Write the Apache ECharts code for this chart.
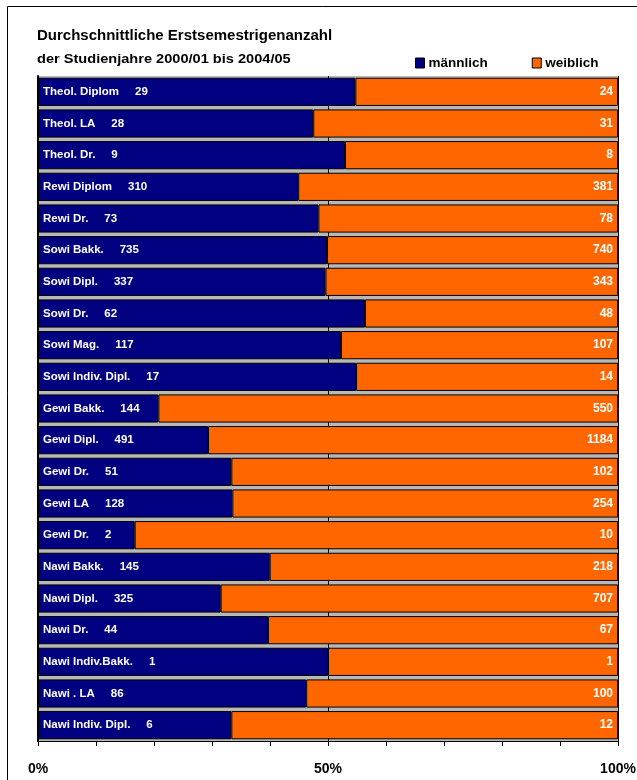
<!DOCTYPE html>
<html>
<head>
<meta charset="utf-8">
<script src="https://cdn.jsdelivr.net/npm/echarts@6/dist/echarts.min.js"></script>
<style>
html,body{margin:0;padding:0;background:#fff;}
#chart{width:637px;height:780px;}
</style>
</head>
<body>
<div id="chart"></div>
<script>
var categories = ["Theol. Diplom","Theol. LA","Theol. Dr.","Rewi Diplom","Rewi Dr.","Sowi Bakk.","Sowi Dipl.","Sowi Dr.","Sowi Mag.","Sowi Indiv. Dipl.","Gewi Bakk.","Gewi Dipl.","Gewi Dr.","Gewi LA","Gewi Dr.","Nawi Bakk.","Nawi Dipl.","Nawi Dr.","Nawi Indiv.Bakk.","Nawi . LA","Nawi Indiv. Dipl."];
var maennlich = [29,28,9,310,73,735,337,62,117,17,144,491,51,128,2,145,325,44,1,86,6];
var weiblich = [24,31,8,381,78,740,343,48,107,14,550,1184,102,254,10,218,707,67,1,100,12];
var tickLabels = ["0%","50%","100%"];

var sans = '"Liberation Sans", Arial, sans-serif';

var mPct = maennlich.map(function(v,i){return v/(v+weiblich[i])*100;});
var wPct = weiblich.map(function(v,i){return v/(maennlich[i]+v)*100;});
var yIdx = categories.map(function(c,i){return i;});

var chart = echarts.init(document.getElementById('chart'));
chart.setOption({
  animation:false,
  backgroundColor:'#fff',
  graphic:[
    {type:'rect', shape:{x:7.5,y:6.5,width:700,height:800}, style:{fill:'none',stroke:'#000',lineWidth:1}, z:-10},
    {type:'text', left:37, top:28, style:{text:'Durchschnittliche Erstsemestrigenanzahl', font:'bold 15px '+sans, fill:'#000'}},
    {type:'text', x:37, y:52, scaleX:1.08, style:{text:'der Studienjahre 2000/01 bis 2004/05', font:'bold 13.5px '+sans, fill:'#000'}}
  ],
  legend:{
    top:51, left:410, itemGap:44, itemWidth:9, itemHeight:10, icon:'rect',
    textStyle:{fontFamily:sans,fontWeight:'bold',fontSize:13.5,color:'#000',padding:[0,0,0,-1]},
    itemStyle:{borderColor:'#000',borderWidth:1},
    data:['männlich','weiblich']
  },
  grid:[{left:38,right:19,top:76,bottom:39,show:true,backgroundColor:'#b8b8b8',borderWidth:0,outerBoundsMode:'none',containLabel:false}],
  xAxis:[{
    type:'value', min:0, max:100, interval:10,
    axisLine:{show:true,lineStyle:{color:'#000',width:1}},
    axisTick:{show:true,length:5,lineStyle:{color:'#000'}},
    splitLine:{show:false},
    axisLabel:{margin:21,fontFamily:sans,fontWeight:'bold',fontSize:14,color:'#000',
      formatter:function(v){ if(v===0) return tickLabels[0]; if(v===50) return tickLabels[1]; if(v===100) return tickLabels[2]; return ''; }}
  },{
    type:'value', min:0, max:100, interval:50, position:'top',
    axisLine:{show:false}, axisTick:{show:false}, axisLabel:{show:false},
    splitLine:{show:true,lineStyle:{color:'#000',width:1}}
  }],
  yAxis:[{
    type:'category', inverse:true, data:yIdx,
    axisLine:{show:true,lineStyle:{color:'#000',width:2}},
    axisTick:{show:false}, axisLabel:{show:false}, splitLine:{show:false}
  }],
  series:[{
    name:'männlich', type:'bar', stack:'s', barCategoryGap:'11%',
    data:mPct,
    itemStyle:{color:'#000080',borderColor:'#000',borderWidth:1},
    label:{show:true,position:'insideLeft',distance:5,color:'#fff',fontFamily:sans,fontWeight:'bold',fontSize:11.5,
      formatter:function(p){return categories[p.dataIndex]+'     '+maennlich[p.dataIndex];}}
  },{
    name:'weiblich', type:'bar', stack:'s',
    data:wPct,
    itemStyle:{color:'#ff6600',borderColor:'#000',borderWidth:1},
    label:{show:true,position:'insideRight',distance:5,color:'#fff',fontFamily:sans,fontWeight:'bold',fontSize:12,
      formatter:function(p){return String(weiblich[p.dataIndex]);}}
  }]
});
</script>
</body>
</html>
